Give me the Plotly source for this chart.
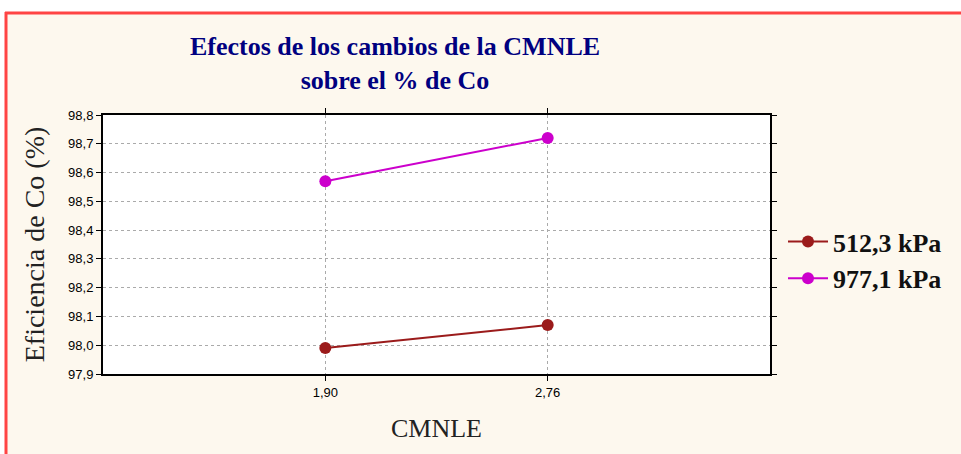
import plotly.graph_objects as go

# ---- data ----
categories = ["1,90", "2,76"]
series_names = ["512,3 kPa", "977,1 kPa"]
vals_512 = [97.99, 98.07]
vals_977 = [98.57, 98.72]
y_ticks = [97.9, 98.0, 98.1, 98.2, 98.3, 98.4, 98.5, 98.6, 98.7, 98.8]

W, H = 961, 454
L, R, T, B = 103, 770, 115, 374  # plot area pixels
PW, PH = R - L, B - T

def px(x):
    return (x - L) / PW

def py(y):
    return 1 - (y - T) / PH

fig = go.Figure()
fig.add_trace(go.Scatter(x=categories, y=vals_512, name=series_names[0],
                         mode="lines+markers",
                         line=dict(color="#9B1B1B", width=2),
                         marker=dict(color="#9B1B1B", size=12)))
fig.add_trace(go.Scatter(x=categories, y=vals_977, name=series_names[1],
                         mode="lines+markers",
                         line=dict(color="#CC00CC", width=2),
                         marker=dict(color="#CC00CC", size=12)))

cream = "#FDF8EE"
shapes = [
    dict(type="rect", xref="paper", yref="paper", x0=px(-10), x1=px(W + 10),
         y0=py(12), y1=py(-10), fillcolor="white", line=dict(width=0), layer="above"),
    dict(type="rect", xref="paper", yref="paper", x0=px(-10), x1=px(5),
         y0=py(H + 10), y1=py(-10), fillcolor="white", line=dict(width=0), layer="above"),
    dict(type="line", xref="paper", yref="paper", x0=px(5), x1=px(W + 10),
         y0=py(13), y1=py(13), line=dict(color="#FF4444", width=3), layer="above"),
    dict(type="line", xref="paper", yref="paper", x0=px(6), x1=px(6),
         y0=py(12), y1=py(H + 10), line=dict(color="#FF4444", width=3), layer="above"),
]

fig.update_layout(
    width=W, height=H,
    margin=dict(l=L, r=W - R, t=T, b=H - B),
    paper_bgcolor=cream,
    plot_bgcolor="white",
    separators=",.",
    showlegend=True,
    title=dict(text="Efectos de los cambios de la CMNLE<br>sobre el % de Co",
               x=px(395), xanchor="center", xref="paper",
               y=1 - 55 / H, yanchor="top", yref="container",
               font=dict(family="Liberation Serif", size=26, color="#000080", weight="bold")),
    legend=dict(x=px(783), xanchor="left", y=py(260), yanchor="middle",
                bgcolor="rgba(0,0,0,0)",
                font=dict(family="Liberation Serif", size=26, color="#111111", weight="bold"),
                tracegroupgap=0, itemwidth=40),
    shapes=shapes,
    xaxis=dict(type="category", range=[-1, 2],
               showline=True, linecolor="black", linewidth=2, mirror="ticks",
               ticks="outside", ticklen=5, tickcolor="black",
               showgrid=True, gridcolor="#AAAAAA", griddash="dot", gridwidth=1,
               tickfont=dict(family="Liberation Sans", size=13, color="black"),
               title=dict(text="CMNLE", standoff=20,
                          font=dict(family="Liberation Serif", size=26, color="#222222"))),
    yaxis=dict(range=[97.9, 98.8], tickvals=y_ticks, tickformat=".1f",
               showline=True, linecolor="black", linewidth=2, mirror="ticks",
               ticks="outside", ticklen=5, tickcolor="black",
               showgrid=True, gridcolor="#AAAAAA", griddash="dot", gridwidth=1,
               zeroline=False,
               tickfont=dict(family="Liberation Sans", size=13, color="black"),
               title=dict(text="Eficiencia de Co (%)", standoff=15,
                          font=dict(family="Liberation Serif", size=28, color="#222222"))),
)

fig.write_html("out.html", config={"displayModeBar": False},
               post_script="document.body.style.margin='0';document.body.style.overflow='hidden';")
